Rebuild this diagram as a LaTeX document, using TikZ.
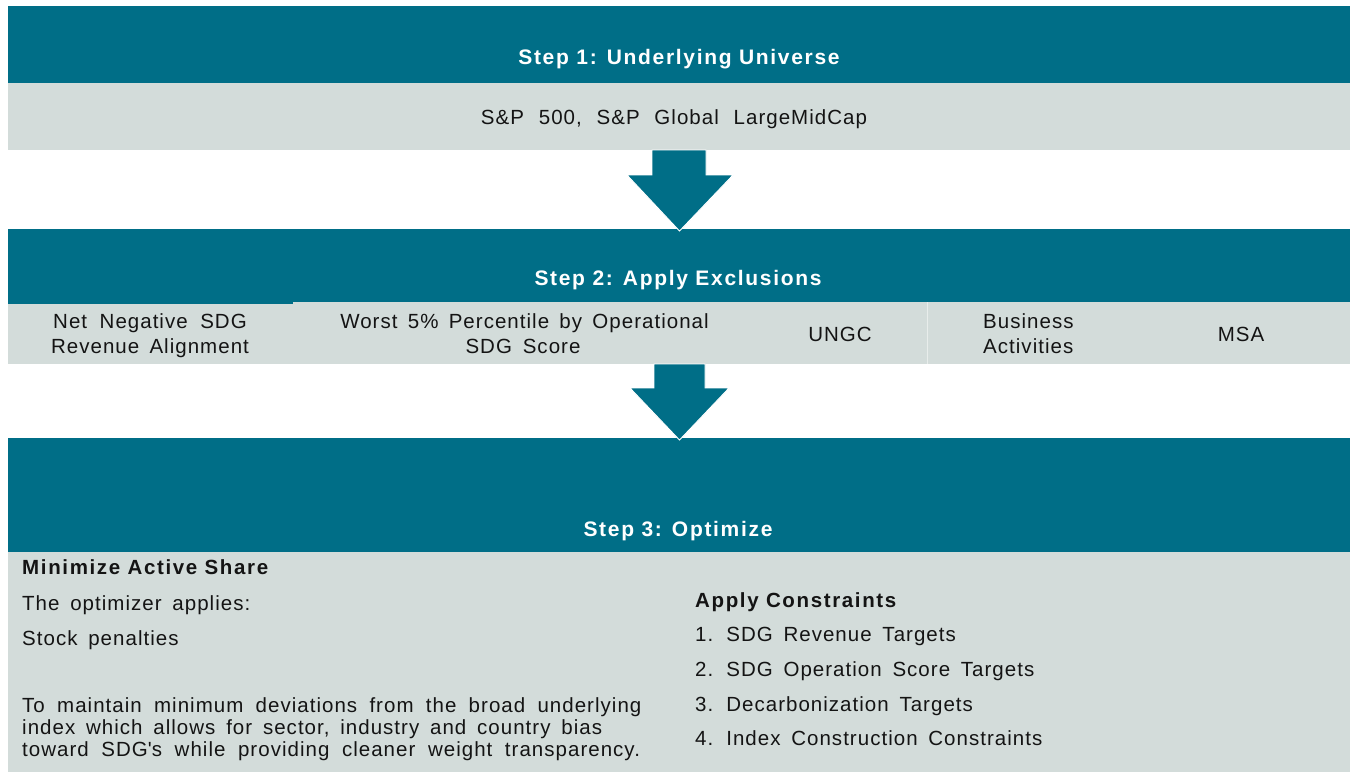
\documentclass[tikz,border=0pt]{standalone}
\usepackage{fontspec}
\setmainfont{Liberation Sans}[LetterSpace=5, WordSpace=1.6]
\newfontfamily\headfont{Liberation Sans}[LetterSpace=8]
\definecolor{stepteal}{RGB}{0,110,135}
\definecolor{panelgray}{RGB}{211,220,218}
\definecolor{inktext}{RGB}{20,20,20}
\definecolor{cellrule}{RGB}{232,237,235}

\begin{document}
\begin{tikzpicture}[x=1pt,y=-1pt,
  band/.style={fill=stepteal},
  panel/.style={fill=panelgray},
  blockarrow/.style={fill=stepteal, draw=white, line width=0.9pt, line join=miter},
  heading/.style={font=\headfont\bfseries\fontsize{21}{25}\selectfont, text=white, inner sep=0pt, anchor=base},
  body/.style={font=\fontsize{20.5}{24}\selectfont, text=inktext, inner sep=0pt},
  bodyc/.style={body, anchor=base},
  bodyl/.style={body, anchor=base west},
  bodyb/.style={body, font=\headfont\bfseries\fontsize{20.5}{24}\selectfont, anchor=base west},
  widespace/.style={execute at begin node={\spaceskip=#1\relax}},
]
\useasboundingbox (0,0) rectangle (1351,776);
\fill[white] (0,0) rectangle (1351,776);

% ---- Step 1 ----
\fill[band]  (8,6)   rectangle (1350,83);
\fill[panel] (8,83)  rectangle (1350,150);
\node[heading] (s1) at (679,65) {Step 1: Underlying Universe};
\node[bodyc, widespace=14.8pt] (univ) at (674,124) {S\&P 500, S\&P Global LargeMidCap};

% ---- Step 2 ----
\fill[band]  (8,229) rectangle (1350,302);
\fill[band]  (8,302) rectangle (293,304);
\fill[panel] (8,304) rectangle (293,364);
\fill[panel] (293,302) rectangle (1350,364);
\draw[cellrule, line width=1pt] (927,302) -- (927,364);

% arrow from step 1 to step 2
\filldraw[blockarrow] (652,150) -- (706,150) -- (706,175) -- (733,175)
  -- (679.5,231) -- (627,175) -- (652,175) -- cycle;

\node[heading] (s2) at (678,285) {Step 2: Apply Exclusions};
\node[bodyc, widespace=12.5pt] (ex1a) at (150,328) {Net Negative SDG};
\node[bodyc, widespace=10.3pt] (ex1b) at (150,353) {Revenue Alignment};
\node[bodyc, widespace=10.3pt] (ex2a) at (524.5,328) {Worst 5\% Percentile by Operational};
\node[bodyc] (ex2b) at (523,353) {SDG Score};
\node[bodyc] (ex3) at (840,341) {UNGC};
\node[bodyl] (ex4a) at (983,328) {Business};
\node[bodyl] (ex4b) at (983,353) {Activities};
\node[bodyc] (ex5) at (1241,341) {MSA};

% ---- Step 3 ----
\fill[band]  (8,438) rectangle (1350,552);
\fill[panel] (8,552) rectangle (1350,772);

% arrow from step 2 to step 3
\filldraw[blockarrow] (654,364) -- (705,364) -- (705,388) -- (729,388)
  -- (679.5,440) -- (630,388) -- (654,388) -- cycle;

\node[heading] (s3) at (678,536) {Step 3: Optimize};

\node[bodyb] (mas) at (22,574) {Minimize Active Share};
\node[bodyl] (opt) at (22,610) {The optimizer applies:};
\node[bodyl] (pen) at (22,645) {Stock penalties};
\node[bodyl, widespace=12.3pt] (p1) at (22,712) {To maintain minimum deviations from the broad underlying};
\node[bodyl, widespace=10.8pt] (p2) at (22,734) {index which allows for sector, industry and country bias};
\node[bodyl, widespace=12.6pt] (p3) at (22,756) {toward SDG\textquotesingle s while providing cleaner weight transparency.};

\node[bodyb] (ac) at (695,607) {Apply Constraints};
\node[bodyl] (c1) at (695,641) {1. SDG Revenue Targets};
\node[bodyl] (c2) at (695,676) {2. SDG Operation Score Targets};
\node[bodyl] (c3) at (695,711) {3. Decarbonization Targets};
\node[bodyl] (c4) at (695,745) {4. Index Construction Constraints};
\end{tikzpicture}
\end{document}
